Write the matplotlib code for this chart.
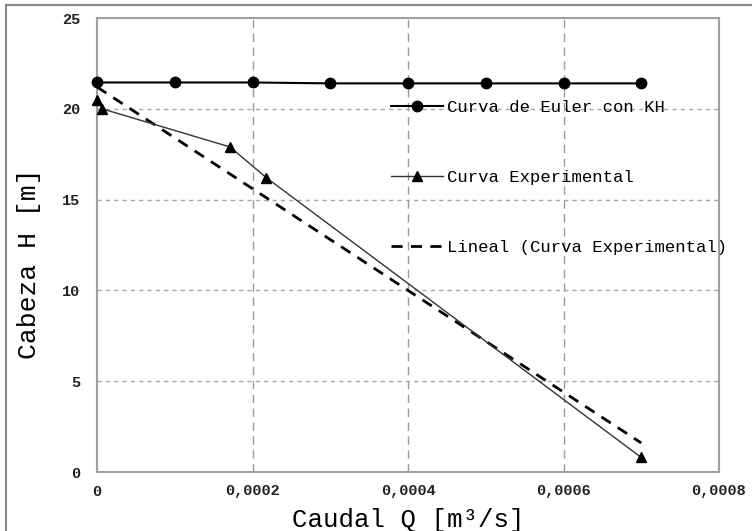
import matplotlib
matplotlib.use("Agg")
import matplotlib.pyplot as plt
from matplotlib.lines import Line2D

# Data
q_euler = [0.0, 0.0001, 0.0002, 0.0003, 0.0004, 0.0005, 0.0006, 0.0007]
h_euler = [21.45, 21.45, 21.45, 21.4, 21.4, 21.4, 21.4, 21.4]
q_exp = [0.0, 0.0000065, 0.000171, 0.000218, 0.0007]
h_exp = [20.5, 20.0, 17.9, 16.2, 0.8]
q_lin = [0.0, 0.0007]
h_lin = [21.2, 1.6]
xticks = [0, 0.0002, 0.0004, 0.0006, 0.0008]
xticklabels = ["0", "0,0002", "0,0004", "0,0006", "0,0008"]
yticks = [0, 5, 10, 15, 20, 25]
yticklabels = ["0", "5", "10", "15", "20", "25"]

W, H = 752, 531
fig = plt.figure(figsize=(W / 100, H / 100), dpi=100)
ax = fig.add_axes([97 / W, 1 - 472 / H, (719 - 97) / W, (472 - 18) / H])

mono = "Liberation Mono"

ax.plot(q_euler, h_euler, color="black", lw=1.5, marker="o", ms=7.5,
        label="Curva de Euler con KH", clip_on=False, zorder=5)
ax.plot(q_exp, h_exp, color="#333333", lw=1.0, marker="^", ms=7,
        markerfacecolor="black", markeredgecolor="black",
        label="Curva Experimental", clip_on=False, zorder=5)
ax.plot(q_lin, h_lin, color="black", lw=2.0, ls=(0, (4, 3)),
        label="Lineal (Curva Experimental)", zorder=4)

ax.set_xlim(0, 0.0008)
ax.set_ylim(0, 25)
ax.set_xticks(xticks)
ax.set_xticklabels(xticklabels)
ax.set_yticks(yticks)
ax.set_yticklabels(yticklabels)

for x in xticks[1:-1]:
    ax.axvline(x, color="#9a9a9a", lw=1.0, ls=(0, (6, 4)), zorder=1)
for y in yticks[1:-1]:
    ax.axhline(y, color="#a8a8a8", lw=1.0, ls=(0, (3, 3)), zorder=1)

for s in ax.spines.values():
    s.set_color("#a0a0a0")
    s.set_linewidth(1.5)

ax.tick_params(axis="x", length=0, pad=9)
ax.tick_params(axis="y", length=0, pad=12)
for lab in ax.get_xticklabels() + ax.get_yticklabels():
    lab.set_fontfamily(mono)
    lab.set_fontweight("bold")
    lab.set_fontsize(11)
    lab.set_color("#222222")

ax.set_xlabel("Caudal Q [m³/s]", fontfamily=mono, fontsize=18.5, labelpad=7)
ax.set_ylabel("Cabeza H [m]", fontfamily=mono, fontsize=19, labelpad=10)
ax.yaxis.set_label_coords(-0.09, (472 - 264) / (472 - 18))

leg = ax.legend(loc="upper left", bbox_to_anchor=(391 / W, 1 - 100 / H),
                bbox_transform=fig.transFigure, frameon=False,
                prop={"family": mono, "size": 12.4}, handlelength=3.0,
                handletextpad=0.25, labelspacing=3.2, borderpad=0,
                borderaxespad=0, markerscale=1.0)

# figure frame (top and left only)
fig.add_artist(Line2D([6 / W, 6 / W], [0, 1 - 5 / H], transform=fig.transFigure,
                      color="#888888", lw=1.5))
fig.add_artist(Line2D([6 / W, 1], [1 - 5 / H, 1 - 5 / H], transform=fig.transFigure,
                      color="#888888", lw=1.5))

fig.savefig("out.png", dpi=100)
